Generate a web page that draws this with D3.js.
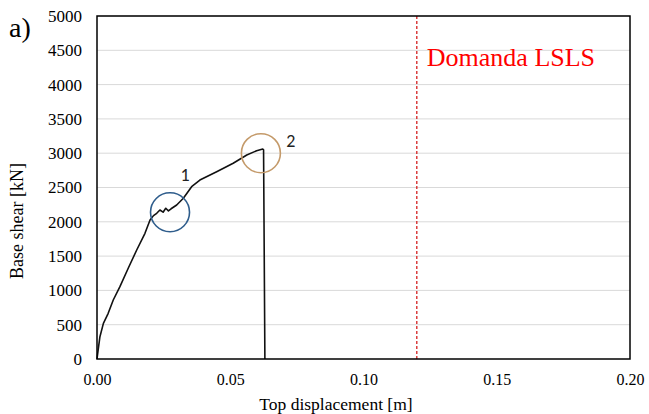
<!DOCTYPE html>
<html>
<head>
<meta charset="utf-8">
<script src="https://cdn.jsdelivr.net/npm/d3@7"></script>
<style>
  body { margin: 0; background: #fff; }
  text { font-family: "Liberation Serif", "Times New Roman", serif; }
</style>
</head>
<body>
<svg id="chart" width="649" height="414"></svg>
<script>
// pushover curve: top displacement [m] / base shear [kN]
const dispValues = [0, 0.0005, 0.0011, 0.0024, 0.0042, 0.0061, 0.0086, 0.0118, 0.0149, 0.018, 0.0199,
    0.0212, 0.0224, 0.0236, 0.0248, 0.0258, 0.0268, 0.0278, 0.0299, 0.0324, 0.0355, 0.0386,
    0.0449, 0.0511, 0.0562, 0.0599, 0.0622, 0.0625, 0.063];
const shearValues = [0, 150, 325, 520, 666, 860, 1054, 1330, 1589, 1832, 2026,
    2090, 2124, 2172, 2140, 2197, 2160, 2190, 2245, 2343, 2512, 2609,
    2730, 2853, 2974, 3036, 3061, 3050, 0];

const xTicks = [0, 0.05, 0.10, 0.15, 0.20];
const yTicks = [0, 500, 1000, 1500, 2000, 2500, 3000, 3500, 4000, 4500, 5000];
const demandDisp = 0.12;

// highlighted points
const markLabels = ['1', '2'];
const markDisp = [0.0274, 0.0615];
const markShear = [2139, 3000];
const markColors = ['#2f5d8c', '#c49a6a'];

const svg = d3.select('#chart');
const margin = {left: 97, right: 19, top: 16, bottom: 55};
const W = +svg.attr('width'), H = +svg.attr('height');

const x = d3.scaleLinear().domain([0, 0.20]).range([margin.left, W - margin.right]);
const y = d3.scaleLinear().domain([0, 5000]).range([H - margin.bottom, margin.top]);

// grid
svg.append('g')
    .selectAll('line')
    .data(yTicks.slice(1))
    .join('line')
        .attr('x1', x(0)).attr('x2', x(0.20))
        .attr('y1', d => y(d)).attr('y2', d => y(d))
        .style('stroke', '#d9d9d9').style('stroke-width', '1px');

// demand line
svg.append('line')
    .attr('x1', x(demandDisp)).attr('x2', x(demandDisp))
    .attr('y1', y(5000)).attr('y2', y(0))
    .style('stroke', '#d42020').style('stroke-width', '1.3px')
    .style('stroke-dasharray', '3,2');

svg.append('text')
    .attr('x', x(demandDisp) + 10)
    .attr('y', 66)
    .style('font-size', '26px')
    .style('fill', '#ff0000')
    .text('Domanda LSLS');

// curve
const line = d3.line()
    .x((d, i) => x(dispValues[i]))
    .y((d, i) => y(shearValues[i]));
svg.append('path')
    .attr('d', line(dispValues))
    .style('fill', 'none').style('stroke', '#111')
    .style('stroke-width', '1.6px').style('stroke-linejoin', 'round');

// circles and labels
svg.append('g')
    .selectAll('circle')
    .data(markLabels)
    .join('circle')
        .attr('cx', (d, i) => x(markDisp[i]))
        .attr('cy', (d, i) => y(markShear[i]))
        .attr('r', 19.5)
        .style('fill', 'none')
        .style('stroke', (d, i) => markColors[i])
        .style('stroke-width', '1.6px');
svg.append('g')
    .selectAll('text')
    .data(markLabels)
    .join('text')
        .attr('x', (d, i) => x(markDisp[i]) + (i == 0 ? 15 : 30))
        .attr('y', (d, i) => y(markShear[i]) - (i == 0 ? 31 : 6))
        .attr('text-anchor', 'middle')
        .style('font-family', 'Carlito, "Liberation Sans", sans-serif')
        .style('font-size', '18px')
        .style('fill', '#222')
        .text(d => d);

// frame
svg.append('rect')
    .attr('x', x(0)).attr('y', y(5000))
    .attr('width', x(0.20) - x(0)).attr('height', y(0) - y(5000))
    .style('fill', 'none').style('stroke', '#000').style('stroke-width', '1.5px');

// axes
const xAxis = svg.append('g')
    .attr('transform', `translate(0,${y(0)})`)
    .call(d3.axisBottom(x).tickValues(xTicks).tickFormat(d3.format('.2f')).tickSize(0).tickPadding(15));
const yAxis = svg.append('g')
    .attr('transform', `translate(${x(0)},0)`)
    .call(d3.axisLeft(y).tickValues(yTicks).tickFormat(d3.format('d')).tickSize(0).tickPadding(15));
[xAxis, yAxis].forEach(a => {
    a.select('.domain').remove();
    a.selectAll('text')
        .style('font-family', '"Liberation Serif", serif')
        .style('fill', '#000');
});
xAxis.selectAll('text').style('font-size', '16px');
yAxis.selectAll('text').style('font-size', '17px');

// titles
svg.append('text')
    .attr('x', 336).attr('y', 410)
    .attr('text-anchor', 'middle')
    .style('font-size', '17.5px')
    .text('Top displacement [m]');
svg.append('text')
    .attr('transform', 'translate(23,221) rotate(-90)')
    .attr('text-anchor', 'middle')
    .style('font-size', '18px')
    .text('Base shear [kN]');
svg.append('text')
    .attr('x', 9).attr('y', 37)
    .style('font-size', '28px')
    .text('a)');
</script>
</body>
</html>
